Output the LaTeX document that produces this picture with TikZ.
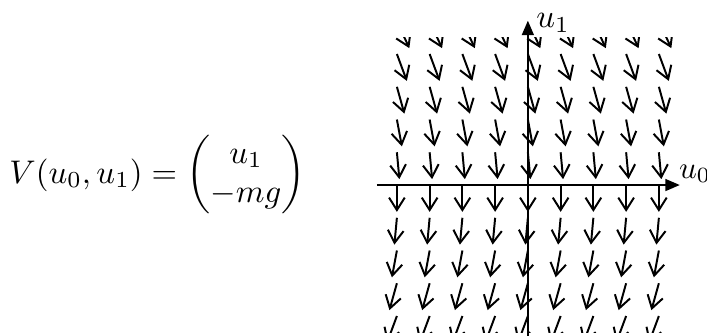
\documentclass[tikz,border=0pt]{standalone}
\usepackage{amsmath}
\usetikzlibrary{arrows.meta}

\begin{document}
\begin{tikzpicture}[x=10pt,y=10pt,
  field/.style={line width=.6pt,-{Straight Barb[length=3.8pt,width=4.8pt]}},
  axis/.style={line width=.6pt,-{Triangle[length=4.4pt,width=3.6pt]}}]
\useasboundingbox (-16.12,-4.58) rectangle (5.47,5.65);
\node[anchor=base] (eq) at (-11.31,0.06) {$V(u_0,u_1)=\begin{pmatrix} u_1\\ -mg\end{pmatrix}$};
% field arrows, cut off at the frame
\begin{scope}
\clip (-4.5,-4.5) rectangle (4.5,4.5);
\foreach \i in {-4,...,4}
  \foreach \j in {-4,...,5}
    \draw[field] (\i,\j) -- ({\i+0.076*\j},{\j-0.82});
\end{scope}
\coordinate (x0) at (-4.61,0);
\coordinate (x1) at (4.64,0);
\coordinate (y0) at (0,-4.7);
\coordinate (y1) at (0,5.02);
\draw[axis] (x0) -- (x1);
\draw[axis] (y0) -- (y1);
\node[anchor=base west,inner sep=0pt,scale=.95] (l0) at (4.60,0.21) {$u_0$};
\node[anchor=base west,inner sep=0pt] (l1) at (0.24,4.82) {$u_1$};
\end{tikzpicture}
\end{document}
